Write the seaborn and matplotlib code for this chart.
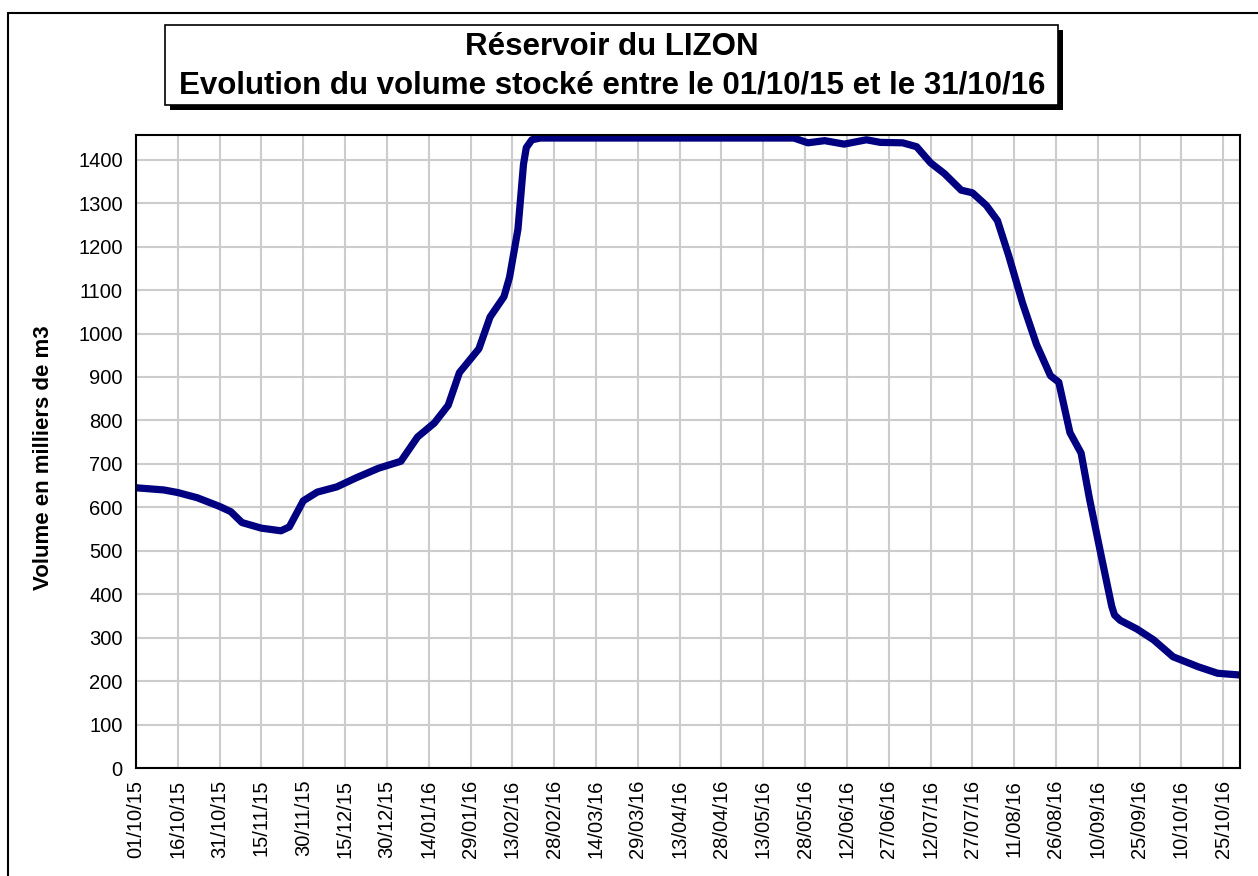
import matplotlib
matplotlib.use('Agg')
import matplotlib.pyplot as plt
import matplotlib.dates as mdates
from matplotlib.patches import Rectangle
from matplotlib.lines import Line2D
import pandas as pd
import seaborn as sns

# volume stocké (milliers de m3)
dates = [
    '2015-10-01', '2015-10-11', '2015-10-16', '2015-10-23', '2015-10-31',
    '2015-11-04', '2015-11-08', '2015-11-15', '2015-11-22', '2015-11-25',
    '2015-11-30', '2015-12-05', '2015-12-12', '2015-12-19', '2015-12-27',
    '2016-01-04', '2016-01-10', '2016-01-16', '2016-01-21', '2016-01-25',
    '2016-02-01', '2016-02-05', '2016-02-10', '2016-02-12', '2016-02-15',
    '2016-02-17', '2016-02-18', '2016-02-20', '2016-02-23', '2016-05-24',
    '2016-05-29', '2016-06-04', '2016-06-11', '2016-06-19', '2016-06-24',
    '2016-07-02', '2016-07-07', '2016-07-12', '2016-07-17', '2016-07-23',
    '2016-07-27', '2016-08-01', '2016-08-05', '2016-08-09', '2016-08-14',
    '2016-08-19', '2016-08-24', '2016-08-27', '2016-08-31', '2016-09-04',
    '2016-09-07', '2016-09-11', '2016-09-15', '2016-09-16', '2016-09-18',
    '2016-09-24', '2016-09-30', '2016-10-07', '2016-10-16', '2016-10-23',
    '2016-10-31',
]
volumes = [
    645, 640, 634, 622, 602,
    590, 565, 552, 546, 555,
    615, 635, 647, 668, 690,
    706, 762, 794, 835, 910,
    965, 1038, 1085, 1130, 1240,
    1390, 1428, 1446, 1450, 1450,
    1439, 1444, 1436, 1446, 1440,
    1439, 1430, 1393, 1368, 1330,
    1324, 1295, 1260, 1180, 1070,
    975, 903, 888, 772, 725,
    620, 495, 372, 352, 340,
    320, 295, 256, 233, 218,
    214,
]
y_ticks = list(range(0, 1401, 100))

title_lines = ["Réservoir du LIZON",
               "Evolution du volume stocké entre le 01/10/15 et le 31/10/16"]
ylabel = "Volume en milliers de m3"

df = pd.DataFrame({'date': pd.to_datetime(dates), 'volume': volumes})

sns.set_style('white')
plt.rcParams['font.family'] = ['Liberation Sans', 'DejaVu Sans']
plt.rcParams['text.color'] = 'black'

fig = plt.figure(figsize=(12.58, 8.76), dpi=100)
W, H = 1258, 876
ax = fig.add_axes([136 / W, (H - 768) / H, (1240 - 136) / W, (768 - 135) / H])

sns.lineplot(data=df, x='date', y='volume', ax=ax, color='#000080',
             linewidth=5.2, solid_joinstyle='round', solid_capstyle='round')

ax.set_xlim(pd.Timestamp('2015-10-01'), pd.Timestamp('2016-10-31'))
ax.set_ylim(0, 1457)
ax.set_yticks(y_ticks)
ticks = pd.date_range('2015-10-01', '2016-10-31', freq='15D')
ax.set_xticks(ticks)
ax.xaxis.set_major_formatter(mdates.DateFormatter('%d/%m/%y'))
ax.grid(True, color='#cccccc', linewidth=1.5)
ax.set_axisbelow(True)
for s in ax.spines.values():
    s.set_color('black')
    s.set_linewidth(1.5)
ax.tick_params(axis='both', direction='inout', length=11, width=1.5,
               labelsize=14.5, colors='black')
ax.tick_params(axis='x', rotation=90, pad=3)
ax.tick_params(axis='y', pad=4)
ax.set_xlabel('')
ax.set_ylabel(ylabel, fontsize=16, fontweight='bold', color='black')
ax.yaxis.set_label_coords(-0.074, 0.49)

# cadre du titre avec ombre
def fig_rect(x0, y0, x1, y1, **kw):
    return Rectangle((x0 / W, 1 - y1 / H), (x1 - x0) / W, (y1 - y0) / H,
                     transform=fig.transFigure, **kw)

fig.patches.append(fig_rect(170, 30, 1063, 110, facecolor='black', edgecolor='none'))
fig.patches.append(fig_rect(165, 25, 1058, 105, facecolor='white', edgecolor='black', linewidth=1.2))
fig.text(612 / W, 1 - 47 / H, title_lines[0], ha='center', va='center',
         fontsize=22.5, fontweight='bold', color='black')
fig.text(612 / W, 1 - 85 / H, title_lines[1], ha='center', va='center',
         fontsize=22.5, fontweight='bold', color='black')

# bordure extérieure
fig.lines.append(Line2D([8 / W, 8 / W], [0, 1 - 13 / H], transform=fig.transFigure,
                        color='black', linewidth=1.5))
fig.lines.append(Line2D([8 / W, 1], [1 - 13 / H, 1 - 13 / H], transform=fig.transFigure,
                        color='black', linewidth=1.5))

fig.savefig('out.png', dpi=100)
